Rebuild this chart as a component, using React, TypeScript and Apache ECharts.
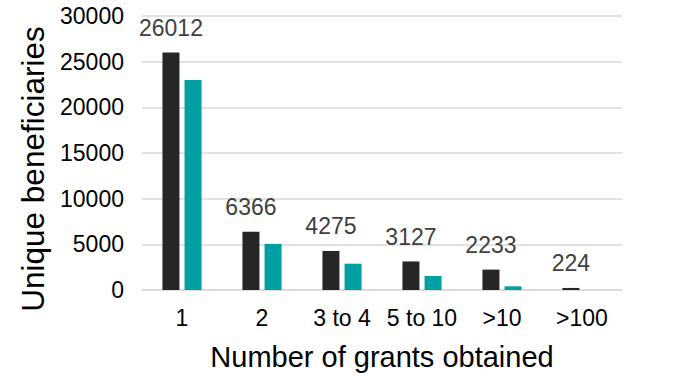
import React, { useEffect, useRef } from "react";
import * as echarts from "echarts";

const categories = ["1", "2", "3 to 4", "5 to 10", ">10", ">100"];
const seriesA = [26012, 6366, 4275, 3127, 2233, 224];
const seriesB = [23000, 5050, 2880, 1530, 400, 0];
const yTicks = { min: 0, max: 30000, interval: 5000 };
const xTitle = "Number of grants obtained";
const yTitle = "Unique beneficiaries";

const FONT = "'Liberation Sans', Arial, sans-serif";

export default function App() {
  const ref = useRef<HTMLDivElement>(null);
  useEffect(() => {
    document.body.style.margin = "0";
    const chart = echarts.init(ref.current!, null, { renderer: "svg" });
    chart.setOption({
      animation: false,
      backgroundColor: "#ffffff",
      textStyle: { fontFamily: FONT },
      grid: { left: 142, right: 52, top: 16, bottom: 85, containLabel: false },
      graphic: [
        {
          type: "text",
          x: 33,
          y: 169,
          rotation: Math.PI / 2,
          style: {
            text: yTitle,
            font: `31.5px ${FONT}`,
            fill: "#000000",
            textAlign: "center",
            textVerticalAlign: "middle",
          },
        },
      ],
      xAxis: {
        type: "category",
        data: categories,
        axisTick: { show: false },
        axisLine: { lineStyle: { color: "#d9d9d9", width: 1.5 } },
        axisLabel: { color: "#000000", fontSize: 23, margin: 16, interval: 0, fontFamily: FONT },
        name: xTitle,
        nameLocation: "middle",
        nameGap: 52,
        nameTextStyle: { color: "#000000", fontSize: 29, fontFamily: FONT },
      },
      yAxis: {
        type: "value",
        min: yTicks.min,
        max: yTicks.max,
        interval: yTicks.interval,
        axisLine: { show: false },
        axisTick: { show: false },
        axisLabel: {
          color: "#000000",
          fontSize: 23,
          margin: 18,
          fontFamily: FONT,
          formatter: (v: number) => String(v),
        },
        splitLine: { lineStyle: { color: "#d9d9d9", width: 1.5 } },
      },
      series: [
        {
          type: "bar",
          data: seriesA,
          barWidth: 17,
          barGap: "30%",
          itemStyle: { color: "#262626" },
          label: {
            show: true,
            position: "top",
            distance: 13,
            color: "#404040",
            fontSize: 23,
            fontFamily: FONT,
          },
        },
        {
          type: "bar",
          data: seriesB,
          barWidth: 17,
          barGap: "30%",
          itemStyle: { color: "#009FA3" },
        },
      ],
    });
    return () => chart.dispose();
  }, []);
  return <div ref={ref} style={{ width: 674, height: 376 }} />;
}
